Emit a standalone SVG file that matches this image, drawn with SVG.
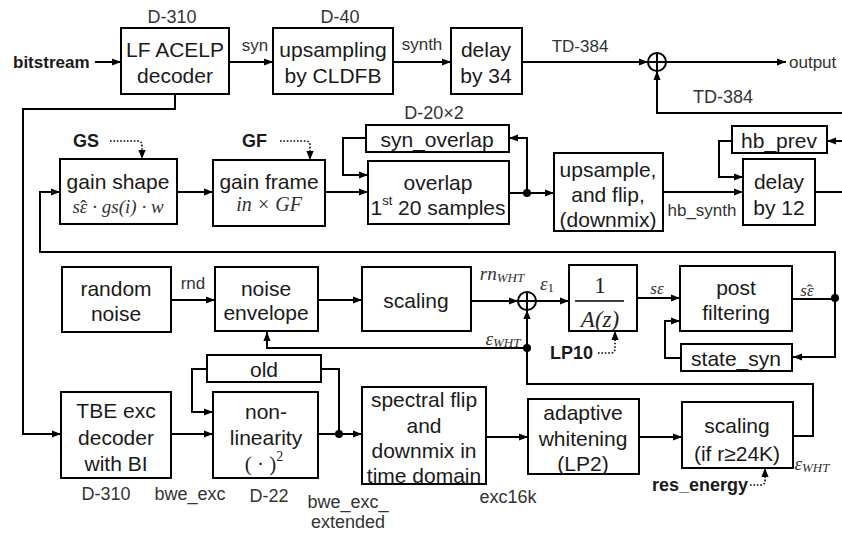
<svg xmlns="http://www.w3.org/2000/svg" width="842" height="533" viewBox="0 0 842 533">
<defs>
<style>
.box{fill:#fff;stroke:#000;stroke-width:2}
.t{font-family:"Liberation Sans",Arial,sans-serif;font-size:21px;fill:#1a1a1a;text-anchor:middle;dominant-baseline:central}
.l{font-family:"Liberation Sans",Arial,sans-serif;font-size:17px;fill:#333;text-anchor:middle;dominant-baseline:central}
.b{font-family:"Liberation Sans",Arial,sans-serif;font-weight:bold;font-size:17px;fill:#1a1a1a;dominant-baseline:central}
.m{font-family:"Liberation Serif","Times New Roman",serif;font-style:italic;font-size:19px;fill:#333;text-anchor:middle;dominant-baseline:central}
.w{fill:none;stroke:#000;stroke-width:2}
.d{fill:none;stroke:#000;stroke-width:1.6;stroke-dasharray:1.6,1.8}
.dot{fill:#000}
</style>
<marker id="a" viewBox="0 0 10 8" refX="10" refY="4" markerWidth="9" markerHeight="7.2" markerUnits="userSpaceOnUse" orient="auto"><path d="M0,0L10,4L0,8z" fill="#000"/></marker>
</defs>
<rect width="842" height="533" fill="#fff"/>

<g id="connectors">
<path class="w" d="M95,62H121" marker-end="url(#a)"/>
<path class="w" d="M229,62H273" marker-end="url(#a)"/>
<path class="w" d="M393,62H451" marker-end="url(#a)"/>
<path class="w" d="M522,62H648" marker-end="url(#a)"/>
<path class="w" d="M666,62H786" marker-end="url(#a)"/>
<path class="w" d="M842,113H657V71" marker-end="url(#a)"/>
<path class="w" d="M175,94V109H23V434H61" marker-end="url(#a)"/>
<path class="w" d="M835,298V252H40V192H60" marker-end="url(#a)"/>
<path class="w" d="M835,298V357H793" marker-end="url(#a)"/>
<path class="w" d="M792,299H835"/>
<path class="w" d="M681,358H665V321H680" marker-end="url(#a)"/>
<path class="w" d="M637,298H680" marker-end="url(#a)"/>
<path class="w" d="M536,301H569" marker-end="url(#a)"/>
<path class="w" d="M471,301H518" marker-end="url(#a)"/>
<path class="w" d="M318,300H362" marker-end="url(#a)"/>
<path class="w" d="M171,300H215" marker-end="url(#a)"/>
<path class="w" d="M793,436H813V384H527V310" marker-end="url(#a)"/>
<path class="w" d="M527,348H267V332" marker-end="url(#a)"/>
<path class="w" d="M639,437H682" marker-end="url(#a)"/>
<path class="w" d="M486,437H528" marker-end="url(#a)"/>
<path class="w" d="M318,434H362" marker-end="url(#a)"/>
<path class="w" d="M339,434V369H321"/>
<path class="w" d="M207,369H192V412H213" marker-end="url(#a)"/>
<path class="w" d="M171,434H213" marker-end="url(#a)"/>
<path class="w" d="M177,192H213" marker-end="url(#a)"/>
<path class="w" d="M325,192H368" marker-end="url(#a)"/>
<path class="w" d="M509,193H554" marker-end="url(#a)"/>
<path class="w" d="M527,193V138H509" marker-end="url(#a)"/>
<path class="w" d="M366,138H343V175H368" marker-end="url(#a)"/>
<path class="w" d="M663,192H743" marker-end="url(#a)"/>
<path class="w" d="M732,141H719V177H743" marker-end="url(#a)"/>
<path class="w" d="M842,141H827" marker-end="url(#a)"/>
<path class="w" d="M815,192H842"/>
<path class="d" d="M110,141H138Q142,141 142,146V159" marker-end="url(#a)"/>
<path class="d" d="M280,141H306Q310,141 310,146V160" marker-end="url(#a)"/>
<path class="d" d="M598,353H611Q615,353 615,348V331" marker-end="url(#a)"/>
<path class="d" d="M750,485H761Q765,485 765,480V468" marker-end="url(#a)"/>
<circle class="dot" cx="835" cy="298" r="4"/>
<circle class="dot" cx="527" cy="348" r="4"/>
<circle class="dot" cx="339" cy="434" r="4"/>
<circle class="dot" cx="527" cy="193" r="4"/>
</g>

<g id="labels">
<text class="b" x="13" y="62">bitstream</text>
<text class="l" x="255" y="45">syn</text>
<text class="l" x="422" y="44">synth</text>
<text class="l" x="580" y="46">TD-384</text>
<text class="l" x="789" y="62" style="text-anchor:start">output</text>
<text class="l" x="723" y="97" style="font-size:18px">TD-384</text>
<text class="l" x="172" y="17" style="font-size:18px">D-310</text>
<text class="l" x="340" y="17" style="font-size:18px">D-40</text>
<text class="l" x="434" y="113" style="font-size:18px">D-20×2</text>
<text class="b" x="73" y="141" style="font-size:18px">GS</text>
<text class="b" x="242" y="141" style="font-size:18px">GF</text>
<text class="l" x="702" y="210">hb_synth</text>
<text class="l" x="193" y="283">rnd</text>
<text class="m" x="502" y="273">rn<tspan font-size="13" dy="4">WHT</tspan></text>
<text class="m" x="503" y="338">ε<tspan font-size="13" dy="4">WHT</tspan></text>
<text class="m" x="547" y="283">ε<tspan font-size="13" font-style="normal" dy="4">1</tspan></text>
<text class="m" x="657" y="288" style="font-size:17px">sε</text>
<text class="m" x="807" y="290" style="font-size:17px">sε<tspan dx="-7" font-style="normal">ˆ</tspan></text>
<text class="b" x="550" y="353" style="font-size:18px">LP10</text>
<text class="m" x="812" y="463">ε<tspan font-size="13" dy="4">WHT</tspan></text>
<text class="b" x="652" y="485" style="font-size:18px">res_energy</text>
<text class="l" x="106" y="494" style="font-size:18px">D-310</text>
<text class="l" x="190" y="494" style="font-size:18px">bwe_exc</text>
<text class="l" x="269" y="496" style="font-size:18px">D-22</text>
<text class="l" x="348" y="502" style="font-size:18px">bwe_exc_</text>
<text class="l" x="348" y="522" style="font-size:18px">extended</text>
<text class="l" x="508" y="497" style="font-size:18px">exc16k</text>
</g>

<g id="sum1">
<circle cx="657" cy="62" r="9" fill="#fff" stroke="#000" stroke-width="2"/>
<path class="w" d="M648,62H666M657,53V71"/>
</g>
<g id="sum2">
<circle cx="527" cy="301" r="9" fill="#fff" stroke="#000" stroke-width="2"/>
<path class="w" d="M518,301H536M527,292V310"/>
</g>

<g id="lf-acelp">
<rect class="box" x="121" y="28" width="108" height="66"/>
<text class="t" x="175" y="49">LF ACELP</text>
<text class="t" x="175" y="75">decoder</text>
</g>
<g id="upsampling">
<rect class="box" x="273" y="28" width="120" height="66"/>
<text class="t" x="333" y="49">upsampling</text>
<text class="t" x="333" y="75">by CLDFB</text>
</g>
<g id="delay34">
<rect class="box" x="451" y="28" width="71" height="66"/>
<text class="t" x="486" y="49">delay</text>
<text class="t" x="486" y="75">by 34</text>
</g>
<g id="gain-shape">
<rect class="box" x="60" y="159" width="117" height="65"/>
<text class="t" x="118" y="181">gain shape</text>
<text class="m" x="118" y="206">sε<tspan dx="-7" font-style="normal">ˆ</tspan><tspan dx="1"> · gs(i) · w</tspan></text>
</g>
<g id="gain-frame">
<rect class="box" x="213" y="160" width="112" height="66"/>
<text class="t" x="269" y="181">gain frame</text>
<text class="m" x="269" y="204" style="font-size:20px">in × GF</text>
</g>
<g id="syn-overlap">
<rect class="box" x="366" y="125" width="143" height="27"/>
<text class="t" x="437" y="139">syn_overlap</text>
</g>
<g id="overlap">
<rect class="box" x="368" y="161" width="141" height="63"/>
<text class="t" x="438" y="182">overlap</text>
<text class="t" x="438" y="207">1<tspan font-size="13" dy="-7">st</tspan><tspan dy="7"> 20 samples</tspan></text>
</g>
<g id="upsample-flip">
<rect class="box" x="554" y="153" width="109" height="78"/>
<text class="t" x="608" y="169">upsample,</text>
<text class="t" x="608" y="194">and flip,</text>
<text class="t" x="608" y="219">(downmix)</text>
</g>
<g id="hb-prev">
<rect class="box" x="732" y="126" width="95" height="27"/>
<text class="t" x="779" y="140">hb_prev</text>
</g>
<g id="delay12">
<rect class="box" x="743" y="159" width="72" height="66"/>
<text class="t" x="779" y="181">delay</text>
<text class="t" x="779" y="207">by 12</text>
</g>
<g id="random-noise">
<rect class="box" x="62" y="267" width="109" height="65"/>
<text class="t" x="116" y="288">random</text>
<text class="t" x="116" y="313">noise</text>
</g>
<g id="noise-envelope">
<rect class="box" x="215" y="267" width="103" height="64"/>
<text class="t" x="266" y="288">noise</text>
<text class="t" x="266" y="312">envelope</text>
</g>
<g id="scaling1">
<rect class="box" x="362" y="267" width="109" height="64"/>
<text class="t" x="416" y="300">scaling</text>
</g>
<g id="synthesis-filter">
<rect class="box" x="569" y="265" width="68" height="66"/>
<text x="600" y="285" style="font-family:'Liberation Serif','Times New Roman',serif;font-size:23px;fill:#222;text-anchor:middle;dominant-baseline:central">1</text>
<path d="M575,301H624" stroke="#000" stroke-width="1.5"/>
<text class="m" x="600" y="319" style="font-size:23px;fill:#222">A(z)</text>
</g>
<g id="post-filtering">
<rect class="box" x="680" y="266" width="112" height="65"/>
<text class="t" x="736" y="287">post</text>
<text class="t" x="736" y="312">filtering</text>
</g>
<g id="state-syn">
<rect class="box" x="681" y="344" width="111" height="27"/>
<text class="t" x="736" y="358">state_syn</text>
</g>
<g id="old">
<rect class="box" x="207" y="355" width="114" height="27"/>
<text class="t" x="264" y="369">old</text>
</g>
<g id="tbe-exc">
<rect class="box" x="61" y="392" width="110" height="86"/>
<text class="t" x="116" y="410">TBE exc</text>
<text class="t" x="116" y="437">decoder</text>
<text class="t" x="116" y="463">with BI</text>
</g>
<g id="non-linearity">
<rect class="box" x="213" y="392" width="105" height="86"/>
<text class="t" x="266" y="411">non-</text>
<text class="t" x="266" y="437">linearity</text>
<text x="264" y="464" style="font-family:'Liberation Serif','Times New Roman',serif;font-size:21px;fill:#222;text-anchor:middle;dominant-baseline:central">( · )<tspan font-size="14" dy="-8">2</tspan></text>
</g>
<g id="spectral-flip">
<rect class="box" x="362" y="387" width="124" height="97"/>
<text class="t" x="424" y="399">spectral flip</text>
<text class="t" x="424" y="425">and</text>
<text class="t" x="424" y="450">downmix in</text>
<text class="t" x="424" y="475">time domain</text>
</g>
<g id="adaptive-whitening">
<rect class="box" x="528" y="399" width="111" height="75"/>
<text class="t" x="583" y="412">adaptive</text>
<text class="t" x="583" y="438">whitening</text>
<text class="t" x="583" y="463">(LP2)</text>
</g>
<g id="scaling2">
<rect class="box" x="682" y="402" width="111" height="66"/>
<text class="t" x="737" y="425">scaling</text>
<text class="t" x="737" y="453">(if r≥24K)</text>
</g>
</svg>
